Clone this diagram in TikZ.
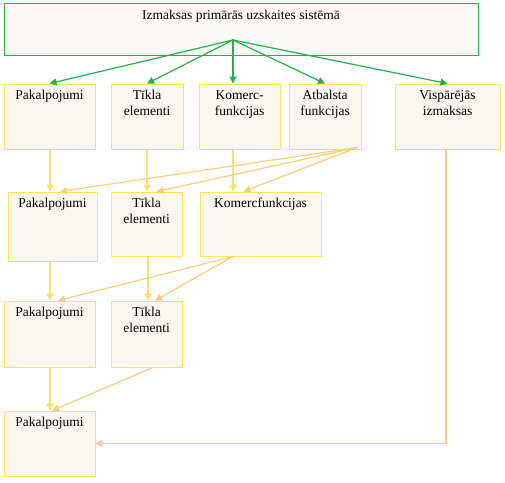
\documentclass[tikz,border=0pt]{standalone}
\usepackage{fontspec}
\setmainfont{Liberation Serif}
\usetikzlibrary{arrows.meta}
\definecolor{leafgreen}{RGB}{34,177,76}
\definecolor{boxyellow}{RGB}{255,228,85}
\definecolor{linkyellow}{RGB}{255,224,95}
\definecolor{linkamber}{RGB}{248,206,125}
\definecolor{paper}{RGB}{250,247,238}
\tikzset{
  costbox/.style={draw=boxyellow,fill=paper,line width=0.9pt,inner sep=0pt},
  topbox/.style={draw=leafgreen,fill=paper!60,line width=0.9pt,inner sep=0pt},
  boxtext/.style={anchor=north,align=center,inner sep=6.5pt,font=\fontsize{13.5}{16}\selectfont},
  greenlink/.style={draw=leafgreen,line width=1.2pt,-{Triangle[width=7pt,length=7pt]}},
  yellowlink/.style={draw=linkyellow,line width=1.3pt,-{Triangle[width=7pt,length=7pt]}},
  amberlink/.style={draw=linkamber,line width=1.2pt,-{Triangle[width=7pt,length=7pt]}}
}

\begin{document}
\begin{tikzpicture}[x=1pt,y=-1pt,line cap=round]
  \useasboundingbox (0,0) rectangle (505,482);
  % the source system
  \node[topbox,minimum width=474,minimum height=52,label={[boxtext,inner sep=7.5pt]north:Izmaksas primārās uzskaites sistēmā}] (sys) at (241,29) {};
  \coordinate (hub) at (233,40);
  % first row of cost groups
  \node[costbox,minimum width=91,minimum height=65,label={[boxtext]north:Pakalpojumi}] (p1) at (49.5,116.5) {};
  \node[costbox,minimum width=72,minimum height=65,label={[boxtext]north:{Tīkla\\elementi}}] (t1) at (147,116.5) {};
  \node[costbox,minimum width=81,minimum height=65,label={[boxtext]north:{Komerc-\\funkcijas}}] (k1) at (239.5,116.5) {};
  \node[costbox,minimum width=72,minimum height=65,label={[boxtext]north:{Atbalsta\\funkcijas}}] (a1) at (325,116.5) {};
  \node[costbox,minimum width=105,minimum height=65,label={[boxtext]north:{Vispārējās\\izmaksas}}] (v1) at (447.5,116.5) {};
  % second row
  \node[costbox,minimum width=89,minimum height=69,label={[boxtext]north:Pakalpojumi}] (p2) at (52.5,226.5) {};
  \node[costbox,minimum width=71,minimum height=64,label={[boxtext]north:{Tīkla\\elementi}}] (t2) at (146.5,224) {};
  \node[costbox,minimum width=121,minimum height=64,label={[boxtext]north:Komercfunkcijas}] (k2) at (260.5,224) {};
  % third and fourth rows
  \node[costbox,minimum width=91,minimum height=66,label={[boxtext]north:Pakalpojumi}] (p3) at (49.5,334) {};
  \node[costbox,minimum width=71,minimum height=66,label={[boxtext]north:{Tīkla\\elementi}}] (t3) at (146.5,334) {};
  \node[costbox,minimum width=91,minimum height=65,label={[boxtext]north:Pakalpojumi}] (p4) at (49.5,443.5) {};
  % from the system to the groups
  \foreach \n in {p1,t1,a1,v1}{\draw[greenlink] (hub) -- (\n.north);}
  \draw[greenlink] (hub) -- (hub |- k1.north);
  % straight down
  \draw[yellowlink] ([xshift=0.5]p1.south) -- ([xshift=0.5]p1.south |- p2.north);
  \draw[yellowlink] (t1.south) -- (t1.south |- t2.north);
  \draw[yellowlink] ([xshift=-6.5]k1.south) -- ([xshift=-6.5]k1.south |- k2.north);
  \draw[yellowlink] ([xshift=-2.5]p2.south) -- ([xshift=-2.5]p2.south |- p3.north);
  \draw[yellowlink] ([xshift=1.5]t2.south) -- ([xshift=1.5]t2.south |- t3.north);
  \draw[yellowlink] ([xshift=0.5]p3.south) -- ([xshift=0.5]p4.north);
  % support functions spread over the others
  \coordinate (asrc) at ([shift={(-4,-2)}]a1.south east);
  \draw[amberlink] (asrc) -- ([xshift=7.5]p2.north);
  \draw[amberlink] (asrc) -- ([xshift=10]t2.north);
  \draw[amberlink] (asrc) -- ([xshift=-17]k2.north);
  % commercial functions spread down
  \coordinate (ksrc) at ([xshift=-27.5]k2.south);
  \draw[amberlink] (ksrc) -- ([xshift=8.5]p3.north);
  \draw[amberlink] (ksrc) -- ([xshift=8.5]t3.north);
  \draw[amberlink] ([xshift=6.5]t3.south) -- ([xshift=2.5]p4.north);
  % overheads
  \draw[amberlink] ([xshift=-1.5]v1.south) |- (p4.east);
\end{tikzpicture}
\end{document}
